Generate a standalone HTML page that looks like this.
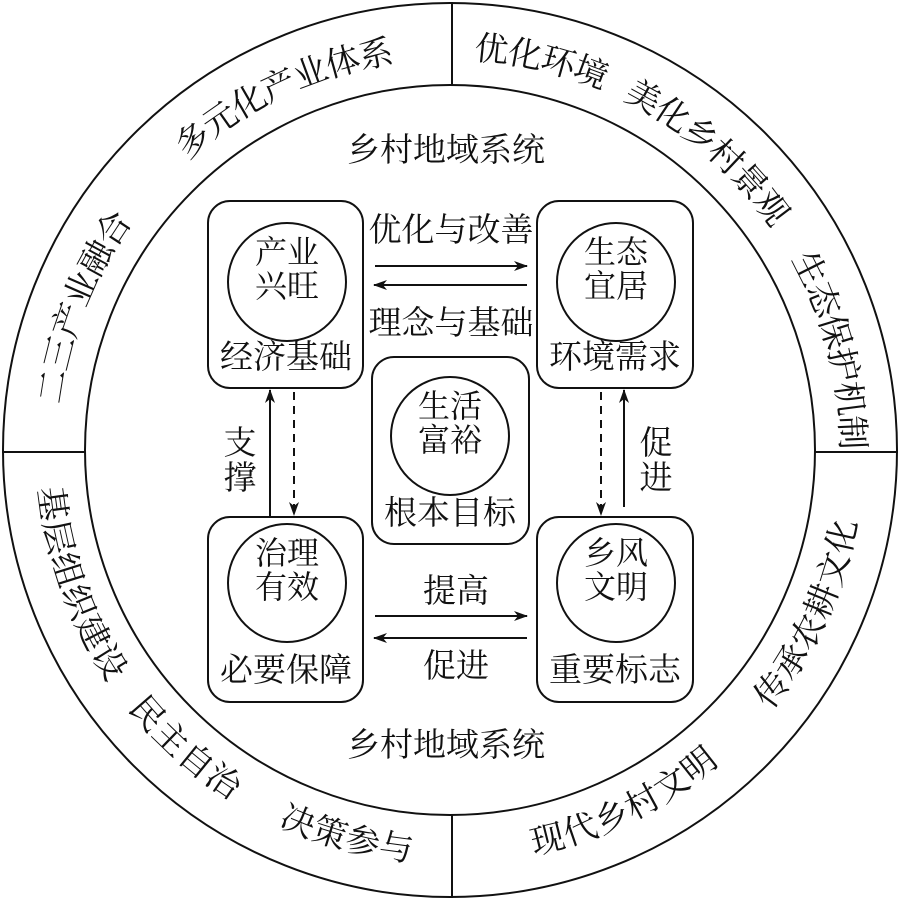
<!DOCTYPE html>
<html><head><meta charset="utf-8"><style>
html,body{margin:0;padding:0;background:#fff}
svg{display:block}
text{font-family:"Liberation Serif","Noto Serif CJK SC","Noto Sans CJK SC",serif;fill:#111}
</style></head><body>
<svg width="900" height="900" viewBox="0 0 900 900" xmlns="http://www.w3.org/2000/svg">
<defs>
<path id="top" d="M 48,450 A 402 402 0 1 1 852,450"/>
<path id="bot" d="M 48,450 A 402 402 0 0 0 852,450"/>
<marker id="ah" markerWidth="14" markerHeight="10" refX="13" refY="5" orient="auto" markerUnits="userSpaceOnUse">
<path d="M0,0 L14,5 L0,10 L4,5 Z" fill="#111"/></marker>
</defs>
<g fill="none" stroke="#111" stroke-width="2">
<circle cx="450" cy="450" r="447"/>
<circle cx="450" cy="450" r="365"/>
<line x1="452" y1="2" x2="452" y2="85"/>
<line x1="452" y1="815" x2="452" y2="898"/>
<line x1="2" y1="452" x2="85" y2="452"/>
<line x1="815" y1="452" x2="898" y2="452"/>
<rect x="208" y="201" width="155" height="187" rx="22"/>
<rect x="537" y="201" width="156" height="187" rx="22"/>
<rect x="208" y="517" width="155" height="185" rx="22"/>
<rect x="537" y="517" width="156" height="185" rx="22"/>
<rect x="372" y="357" width="157" height="187" rx="22"/>
<circle cx="287" cy="282" r="59"/>
<circle cx="616" cy="282" r="59"/>
<circle cx="287" cy="583" r="59"/>
<circle cx="616" cy="583" r="59"/>
<circle cx="450" cy="436" r="59"/>
<line x1="375" y1="266" x2="527" y2="266" marker-end="url(#ah)"/>
<line x1="527" y1="285" x2="374" y2="285" marker-end="url(#ah)"/>
<line x1="375" y1="616" x2="527" y2="616" marker-end="url(#ah)"/>
<line x1="527" y1="638" x2="374" y2="638" marker-end="url(#ah)"/>
<line x1="270" y1="517" x2="270" y2="390" marker-end="url(#ah)"/>
<line x1="294" y1="392" x2="294" y2="515" stroke-dasharray="8,6" marker-end="url(#ah)"/>
<line x1="601" y1="392" x2="601" y2="515" stroke-dasharray="8,6" marker-end="url(#ah)"/>
<line x1="624" y1="507" x2="624" y2="390" marker-end="url(#ah)"/>
</g>
<g font-size="32" text-anchor="middle">
<text x="287" y="263">产业</text><text x="287" y="297">兴旺</text>
<text x="616" y="263">生态</text><text x="616" y="297">宜居</text>
<text x="287" y="564">治理</text><text x="287" y="598">有效</text>
<text x="616" y="564">乡风</text><text x="616" y="598">文明</text>
<text x="450" y="417">生活</text><text x="450" y="451">富裕</text>
</g>
<g font-size="33" text-anchor="middle">
<text x="286" y="368">经济基础</text>
<text x="615" y="368">环境需求</text>
<text x="450" y="524">根本目标</text>
<text x="286" y="681">必要保障</text>
<text x="615" y="681">重要标志</text>
<text x="451" y="241">优化与改善</text>
<text x="451" y="334">理念与基础</text>
<text x="456" y="602">提高</text>
<text x="456" y="677">促进</text>
<text x="446" y="161">乡村地域系统</text>
<text x="446" y="756">乡村地域系统</text>
<text x="240" y="454">支</text><text x="240" y="489">撑</text>
<text x="656" y="454">促</text><text x="656" y="489">进</text>
</g>
<g font-size="34" text-anchor="middle" dominant-baseline="central">
<text><textPath href="#top" startOffset="455">多元化产业体系</textPath></text>
<text><textPath href="#top" startOffset="149">二三产业融合</textPath></text>
<text><textPath href="#top" startOffset="724">优化环境</textPath></text>
<text><textPath href="#top" startOffset="918">美化乡村景观</textPath></text>
<text><textPath href="#top" startOffset="1160">生态保护机制</textPath></text>
<text><textPath href="#bot" startOffset="139">基层组织建设</textPath></text>
<text><textPath href="#bot" startOffset="339">民主自治</textPath></text>
<text><textPath href="#bot" startOffset="526">决策参与</textPath></text>
<text><textPath href="#bot" startOffset="815">现代乡村文明</textPath></text>
<text><textPath href="#bot" startOffset="1090">传承农耕文化</textPath></text>
</g>
</svg>
</body></html>
